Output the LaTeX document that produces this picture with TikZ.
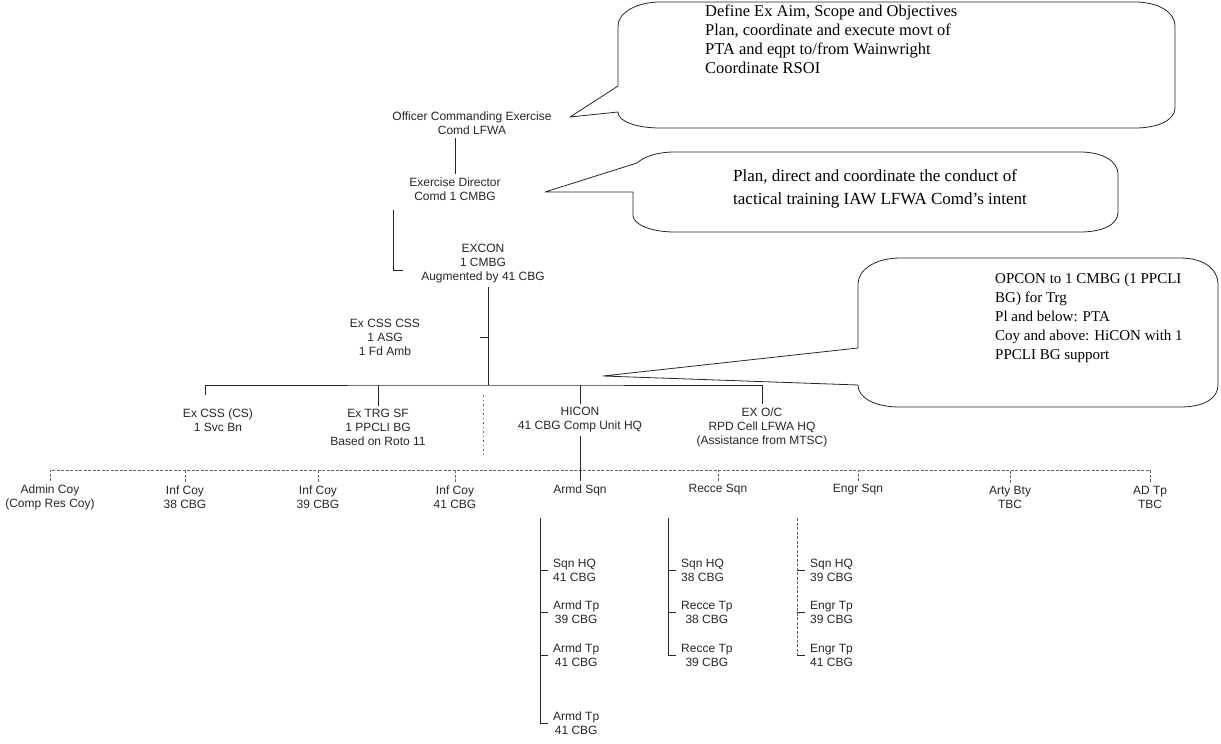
\documentclass[tikz,border=0pt]{standalone}
\usepackage{fontspec}
\setmainfont{Liberation Serif}
\newfontfamily\orgfont{Liberation Sans}
\begin{document}
\begin{tikzpicture}[x=1pt,y=-1pt,
  org/.style={font=\orgfont\fontsize{12}{14}\selectfont, align=center, inner sep=3pt, text=black!85},
  sub/.style={org, anchor=west},
  call/.style={align=left, inner sep=0pt, anchor=north west},
  ln/.style={line width=0.7pt, black!85},
  dl/.style={line width=0.6pt, black!60, dash pattern=on 3pt off 1.5pt},
  bub/.style={line width=0.8pt, black!85, line join=round}]
\useasboundingbox (0,0) rectangle (1221,744);

% ---------- callouts ----------
\coordinate (tip1) at (570,117);
\draw[bub] (800,2) -- (1135,2) .. controls (1158,2) and (1175,12) .. (1175,26)
  -- (1175,108) .. controls (1175,120) and (1158,128) .. (1135,128)
  -- (660,128) .. controls (638,128) and (618,122) .. (618,112)
  -- (tip1) -- (618,86) -- (618,26) .. controls (618,12) and (638,2) .. (660,2) -- (800,2);
\node[call, font=\fontsize{16.5}{19}\selectfont] (c1) at (705,5) {Define Ex Aim, Scope and Objectives\\Plan, coordinate and execute movt of\\PTA and eqpt to/from Wainwright\\Coordinate RSOI};

\coordinate (tip2) at (545,192);
\draw[bub] (850,152) -- (1080,152) .. controls (1102,152) and (1118,161) .. (1118,174)
  -- (1118,212) .. controls (1118,225) and (1102,232) .. (1080,232)
  -- (675,232) .. controls (652,232) and (633,225) .. (633,215)
  -- (633,192) -- (tip2) -- (637,163) .. controls (645,156) and (658,152) .. (675,152) -- (850,152);
\node[call, font=\fontsize{17}{23}\selectfont] (c2) at (733,169) {Plan, direct and coordinate the conduct of\\tactical training IAW LFWA Comd's intent};

\coordinate (tip3) at (603,376);
\draw[bub] (1000,258) -- (1180,258) .. controls (1205,258) and (1218,270) .. (1218,284)
  -- (1218,385) .. controls (1218,398) and (1205,407) .. (1180,407)
  -- (900,407) .. controls (875,407) and (858,398) .. (858,385)
  -- (tip3) -- (858,348) -- (858,284) .. controls (858,270) and (875,258) .. (900,258) -- (1000,258);
\node[call, font=\fontsize{15}{19}\selectfont] (c3) at (995,273) {OPCON to 1 CMBG (1 PPCLI\\BG) for Trg\\Pl and below: PTA\\Coy and above: HiCON with 1\\PPCLI BG support};

% ---------- org nodes ----------
\node[org] (oce) at (472,123) {Officer Commanding Exercise\\Comd LFWA};
\node[org] (ed) at (455,189) {Exercise Director\\Comd 1 CMBG};
\node[org] (excon) at (483,264) {EXCON\\1 CMBG\\Augmented by 41 CBG};
\node[org] (csscss) at (385,337) {Ex CSS CSS\\1 ASG\\1 Fd Amb};
\node[org] (csscs) at (218,420) {Ex CSS (CS)\\1 Svc Bn};
\node[org] (trg) at (378,427) {Ex TRG SF\\1 PPCLI BG\\Based on Roto 11};
\node[org] (hicon) at (580,420) {HICON\\41 CBG Comp Unit HQ};
\node[org] (exoc) at (762,427) {EX O/C\\RPD Cell LFWA HQ\\(Assistance from MTSC)};

\node[org] (admin) at (50,497) {Admin Coy\\(Comp Res Coy)};
\node[org] (inf38) at (185,497) {Inf Coy\\38 CBG};
\node[org] (inf39) at (318,497) {Inf Coy\\39 CBG};
\node[org] (inf41) at (455,497) {Inf Coy\\41 CBG};
\node[org] (armd) at (580,490) {Armd Sqn};
\node[org] (recce) at (718,490) {Recce Sqn};
\node[org] (engr) at (858,490) {Engr Sqn};
\node[org] (arty) at (1010,497) {Arty Bty\\TBC};
\node[org] (adtp) at (1150,497) {AD Tp\\TBC};

\node[sub] (a1) at (550,570) {Sqn HQ\\41 CBG};
\node[sub] (a2) at (550,612) {Armd Tp\\39 CBG};
\node[sub] (a3) at (550,655) {Armd Tp\\41 CBG};
\node[sub] (a4) at (550,723) {Armd Tp\\41 CBG};
\node[sub] (r1) at (678,570) {Sqn HQ\\38 CBG};
\node[sub] (r2) at (678,612) {Recce Tp\\38 CBG};
\node[sub] (r3) at (678,655) {Recce Tp\\39 CBG};
\node[sub] (e1) at (807,570) {Sqn HQ\\39 CBG};
\node[sub] (e2) at (807,612) {Engr Tp\\39 CBG};
\node[sub] (e3) at (807,655) {Engr Tp\\41 CBG};

% ---------- connectors ----------
\draw[ln] (oce.south -| ed.north) -- (ed.north);
\coordinate (edl) at (393,210);
\coordinate (edk) at (403,270);
\draw[ln] (edl) |- (edk);
\coordinate (bus) at (488,385);
\draw[ln] (excon.south -| bus) -- (bus);
\draw[ln] (csscss.east -| bus) -- ++(-8,0);
\coordinate (cssdrop) at (205,395);
\draw[ln] (cssdrop) |- (bus) -| (exoc.north);
\draw[ln] (trg.north) -- (trg.north |- bus);
\draw[ln] (hicon.north) -- (hicon.north |- bus);
\coordinate (sepT) at (483,395);
\coordinate (sepB) at (483,455);
\draw[dl, dash pattern=on 1.5pt off 3pt] (sepT) -- (sepB);

\coordinate (bb) at (0,470);
\draw[dl] (admin.north) |- (bb -| adtp.north) -- (adtp.north);
\foreach \n in {inf38,inf39,inf41,recce,engr,arty} \draw[dl] (\n.north) -- (\n.north |- bb);
\draw[ln] (hicon.south) -- (armd.north);

\coordinate (acol) at (540,518);
\draw[ln] (acol) -- (acol |- a4.west);
\foreach \n in {a1,a2,a3,a4} \draw[ln] (acol |- \n.west) -- ++(8,0);
\coordinate (rcol) at (668,518);
\draw[ln] (rcol) -- (rcol |- r3.west);
\foreach \n in {r1,r2,r3} \draw[ln] (rcol |- \n.west) -- ++(8,0);
\coordinate (ecol) at (797,518);
\draw[dl] (ecol) -- (ecol |- e3.west);
\foreach \n in {e1,e2,e3} \draw[ln] (ecol |- \n.west) -- ++(8,0);
\end{tikzpicture}
\end{document}
